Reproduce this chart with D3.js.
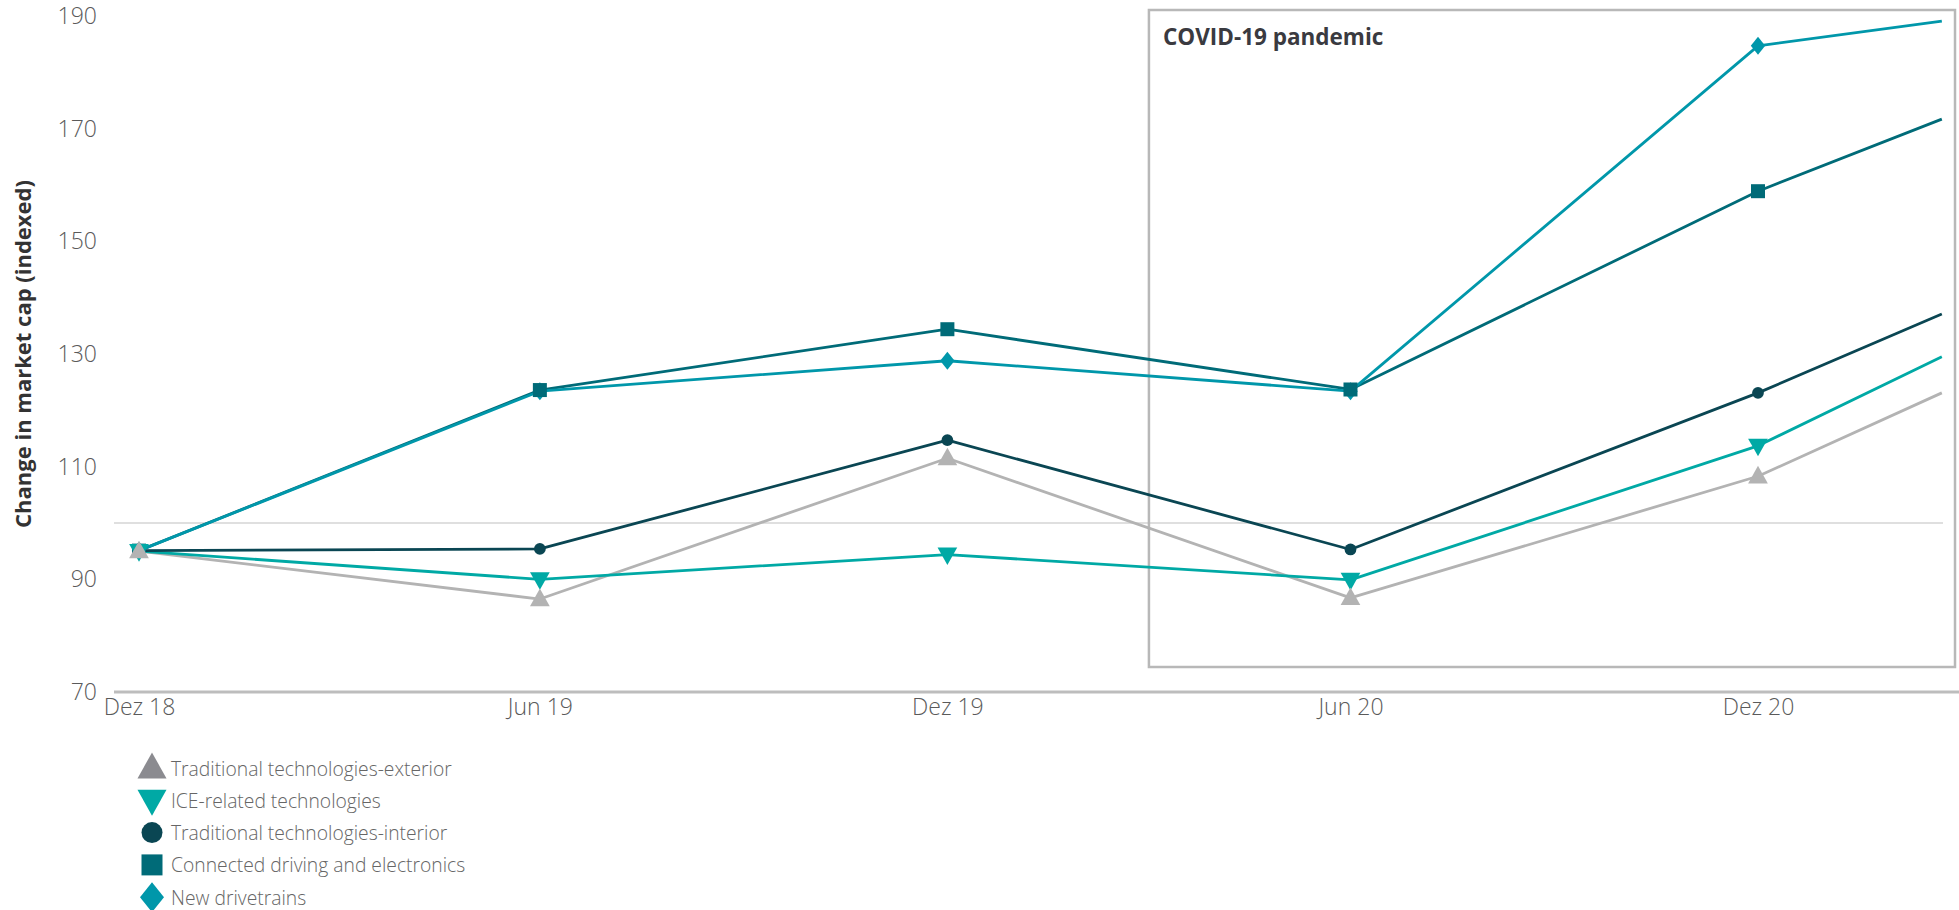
<!DOCTYPE html>
<html>
<head>
<meta charset="utf-8">
<script src="https://cdn.jsdelivr.net/npm/d3@7"></script>
<style>
  html, body { margin: 0; padding: 0; background: #fff; }
  svg { display: block; font-family: "Open Sans", "Noto Sans", sans-serif; }
</style>
</head>
<body>
<svg id="chart" width="1959" height="910"></svg>
<script>
// Observation dates (half-yearly, plus the latest reading)
const dates = ["2018-12-31", "2019-06-30", "2019-12-31", "2020-06-30", "2020-12-31", "2021-03-24"];
const tickDates = ["2018-12-31", "2019-06-30", "2019-12-31", "2020-06-30", "2020-12-31"];
const tickLabels = ["Dez 18", "Jun 19", "Dez 19", "Jun 20", "Dez 20"];
const yTicks = [70, 90, 110, 130, 150, 170, 190];

// Market cap index per technology cluster
const tradExterior = [95.0, 86.5, 111.5, 86.7, 108.3, 123.1];
const iceRelated   = [95.0, 90.0, 94.4, 89.9, 113.7, 129.5];
const tradInterior = [95.1, 95.4, 114.7, 95.3, 123.1, 137.1];
const connected    = [95.1, 123.6, 134.4, 123.7, 158.9, 171.7];
const drivetrains  = [95.1, 123.4, 128.8, 123.4, 184.7, 189.1];

const seriesNames = [
  "Traditional technologies-exterior",
  "ICE-related technologies",
  "Traditional technologies-interior",
  "Connected driving and electronics",
  "New drivetrains"
];
const seriesColors = ["#b3b3b3", "#00a9a5", "#0a4653", "#006b78", "#0097aa"];
const legendColors = ["#8b8b90", "#00a9a5", "#0a4653", "#006b78", "#0097aa"];
const seriesSymbols = ["up", "down", "circle", "square", "diamond"];

// Start of the pandemic period frame
const covidStart = "2020-03-31";

const series = [tradExterior, iceRelated, tradInterior, connected, drivetrains].map((vals, i) => ({
  name: seriesNames[i],
  color: seriesColors[i],
  legendColor: legendColors[i],
  symbol: seriesSymbols[i],
  values: vals.map((v, j) => ({ date: new Date(dates[j]), value: v }))
}));

const svg = d3.select("#chart");
const plotLeft = 114, plotRight = 1959;

const x = d3.scaleTime()
  .domain([new Date(tickDates[0]), new Date(tickDates[tickDates.length - 1])])
  .range([139, 1758]);
const y = d3.scaleLinear().domain([70, 190]).range([692, 16]);

// Symbol path builders
function symbolPath(kind, s) {
  switch (kind) {
    case "up": return `M0,${-s * 0.62}L${s * 0.58},${s * 0.42}L${-s * 0.58},${s * 0.42}Z`;
    case "down": return `M0,${s * 0.62}L${s * 0.58},${-s * 0.42}L${-s * 0.58},${-s * 0.42}Z`;
    case "circle": return d3.arc()({ innerRadius: 0, outerRadius: s * 0.42, startAngle: 0, endAngle: 2 * Math.PI });
    case "square": return `M${-s / 2},${-s / 2}h${s}v${s}h${-s}Z`;
    case "diamond": return `M0,${-s * 0.6}L${s * 0.48},0L0,${s * 0.6}L${-s * 0.48},0Z`;
  }
}
const markerSize = { up: 17, down: 17, circle: 14, square: 14, diamond: 15 };

// Reference line at index 100
svg.append("line")
  .attr("x1", plotLeft).attr("x2", 1943)
  .attr("y1", y(100)).attr("y2", y(100))
  .attr("stroke", "#d4d4d4").attr("stroke-width", 1.5);

// Baseline
svg.append("line")
  .attr("x1", plotLeft).attr("x2", plotRight)
  .attr("y1", y(70)).attr("y2", y(70))
  .attr("stroke", "#bdbdbd").attr("stroke-width", 3);

// COVID-19 period frame
const covidX = x(new Date(covidStart));
svg.append("rect")
  .attr("x", covidX).attr("y", 10)
  .attr("width", 1955 - covidX).attr("height", 667 - 10)
  .attr("fill", "none").attr("stroke", "#b8b8b8").attr("stroke-width", 2.5);
svg.append("text")
  .attr("x", covidX + 14).attr("y", 45)
  .attr("font-size", 22.5).attr("font-weight", 700).attr("fill", "#3a3a40")
  .text("COVID-19 pandemic");

// Y axis
const yAxis = svg.append("g")
  .attr("transform", `translate(${plotLeft},0)`)
  .call(d3.axisLeft(y).tickValues(yTicks).tickSize(0).tickPadding(17));
yAxis.select(".domain").remove();
yAxis.selectAll("text")
  .attr("font-size", 23).attr("fill", "#5a5a5a").attr("font-weight", 300)
  .attr("font-family", "'Open Sans', sans-serif");

svg.append("text")
  .attr("transform", "translate(22,354) rotate(-90)")
  .attr("text-anchor", "middle").attr("dominant-baseline", "central")
  .attr("font-size", 22).attr("font-weight", 700).attr("fill", "#333")
  .text("Change in market cap (indexed)");

// X axis
const xAxis = svg.append("g")
  .attr("transform", `translate(0,${y(70)})`)
  .call(d3.axisBottom(x)
    .tickValues(tickDates.map(d => new Date(d)))
    .tickFormat((d, i) => tickLabels[i])
    .tickSize(0).tickPadding(7));
xAxis.select(".domain").remove();
xAxis.selectAll("text")
  .attr("font-size", 23).attr("fill", "#5a5a5a").attr("font-weight", 300)
  .attr("font-family", "'Open Sans', sans-serif");

// Lines and markers
const line = d3.line().x(d => x(d.date)).y(d => y(d.value));
series.forEach(s => {
  svg.append("path")
    .datum(s.values)
    .attr("d", line)
    .attr("fill", "none")
    .attr("stroke", s.color)
    .attr("stroke-width", 2.8)
    .attr("stroke-linejoin", "round");
});
// Markers: the half-yearly observations carry a symbol
[4, 3, 2, 1, 0].forEach(i => {
  const s = series[i];
  svg.append("g").selectAll("path")
    .data(s.values.slice(0, 5))
    .join("path")
    .attr("transform", d => `translate(${x(d.date)},${y(d.value)})`)
    .attr("d", symbolPath(s.symbol, markerSize[s.symbol]))
    .attr("fill", s.color);
});

// Legend
const legend = svg.append("g").attr("transform", "translate(152,768)");
series.forEach((s, i) => {
  const row = legend.append("g").attr("transform", `translate(0,${i * 32.3})`);
  row.append("path")
    .attr("d", symbolPath(s.symbol, s.symbol === "square" ? 21 : 25))
    .attr("fill", s.legendColor);
  row.append("text")
    .attr("x", 19).attr("y", 0)
    .attr("dominant-baseline", "central")
    .attr("font-size", 19.3).attr("font-weight", 300).attr("fill", "#666")
    .text(s.name);
});
</script>
</body>
</html>
